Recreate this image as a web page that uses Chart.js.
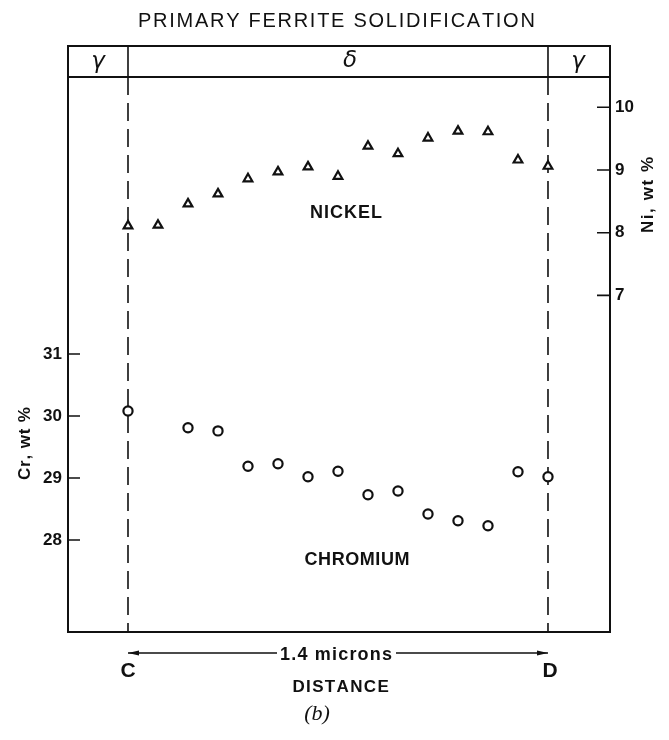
<!DOCTYPE html>
<html>
<head>
<meta charset="utf-8">
<script src="https://cdn.jsdelivr.net/npm/chart.js@4.4.1/dist/chart.umd.min.js"></script>
<style>
  html, body { margin: 0; padding: 0; background: #ffffff; }
  canvas { display: block; }
</style>
</head>
<body>
<canvas id="c" width="669" height="740"></canvas>
<script>
// ---- data ----
const TITLE = 'PRIMARY FERRITE SOLIDIFICATION';
const PHASES = ['\u03B3', '\u03B4', '\u03B3'];
const DIST = [0, 0.1, 0.2, 0.3, 0.4, 0.5, 0.6, 0.7, 0.8, 0.9, 1.0, 1.1, 1.2, 1.3, 1.4];   // microns from C
const NICKEL = [8.11, 8.12, 8.46, 8.62, 8.86, 8.97, 9.05, 8.90, 9.38, 9.26, 9.51, 9.62, 9.61, 9.16, 9.06];
const CHROMIUM = [30.08, null, 29.81, 29.76, 29.19, 29.23, 29.02, 29.11, 28.73, 28.79, 28.42, 28.31, 28.23, 29.10, 29.02];
const BOUNDARIES = [0, 1.4];           // C and D
const CR_TICKS = [28, 29, 30, 31];
const NI_TICKS = [7, 8, 9, 10];
const CR_TITLE = 'Cr, wt %';
const NI_TITLE = 'Ni, wt %';
const DIST_LABEL = '1.4 microns';
const X_TITLE = 'DISTANCE';
const END_LABELS = ['C', 'D'];
const SERIES_LABELS = ['NICKEL', 'CHROMIUM'];
const PANEL = '(b)';

const INK = '#111111';
const FONT = '"Liberation Sans", Arial, sans-serif';

function toPoints(ys) {
  const pts = [];
  DIST.forEach((d, i) => { if (ys[i] !== null) pts.push({ x: d, y: ys[i] }); });
  return pts;
}

function spaced(ctx, text, x, y, width, align) {
  ctx.save();
  const w0 = ctx.measureText(text).width;
  const sp = text.length > 1 ? (width - w0) / (text.length - 1) : 0;
  let cx = align === 'center' ? x - width / 2 : x;
  ctx.textAlign = 'left';
  for (const ch of text) {
    ctx.fillText(ch, cx, y);
    cx += ctx.measureText(ch).width + sp;
  }
  ctx.restore();
}

const decor = {
  id: 'decor',
  beforeDatasetsDraw(chart) {
    const { ctx, chartArea: a, scales } = chart;
    const headerBottom = a.top + 31;
    ctx.save();
    ctx.strokeStyle = INK;
    ctx.lineWidth = 1.6;
    ctx.setLineDash([18, 8]);
    BOUNDARIES.forEach(b => {
      const x = scales.x.getPixelForValue(b);
      ctx.beginPath();
      ctx.moveTo(x, headerBottom);
      ctx.lineTo(x, a.bottom);
      ctx.stroke();
    });
    ctx.restore();
  },
  afterDraw(chart) {
    const { ctx, chartArea: a, scales } = chart;
    const headerBottom = a.top + 31;
    ctx.save();
    ctx.strokeStyle = INK;
    ctx.fillStyle = INK;
    ctx.lineWidth = 2;
    ctx.beginPath();
    ctx.moveTo(a.left, a.top); ctx.lineTo(a.right, a.top);
    ctx.moveTo(a.left, a.bottom); ctx.lineTo(a.right, a.bottom);
    ctx.moveTo(a.left, headerBottom); ctx.lineTo(a.right, headerBottom);
    ctx.stroke();
    const bx = BOUNDARIES.map(b => scales.x.getPixelForValue(b));
    ctx.lineWidth = 1.6;
    ctx.beginPath();
    bx.forEach(x => { ctx.moveTo(x, a.top); ctx.lineTo(x, headerBottom); });
    ctx.stroke();
    // header labels
    ctx.font = 'italic 23px "DejaVu Sans", sans-serif';
    ctx.textAlign = 'center';
    ctx.textBaseline = 'middle';
    const hy = (a.top + headerBottom) / 2 + 1;
    ctx.fillText(PHASES[0], (a.left + bx[0]) / 2, hy);
    ctx.fillText(PHASES[1], (bx[0] + bx[1]) / 2 + 12, hy - 1);
    ctx.fillText(PHASES[2], (bx[1] + a.right) / 2 - 1, hy);

    // inward tick marks
    ctx.lineWidth = 1.6;
    ctx.beginPath();
    scales.yCr.ticks.forEach(t => {
      const y = scales.yCr.getPixelForValue(t.value);
      ctx.moveTo(a.left, y); ctx.lineTo(a.left + 12, y);
    });
    scales.yNi.ticks.forEach(t => {
      const y = scales.yNi.getPixelForValue(t.value);
      ctx.moveTo(a.right - 13, y); ctx.lineTo(a.right, y);
    });
    ctx.stroke();

    // title
    ctx.textBaseline = 'alphabetic';
    ctx.font = '20px ' + FONT;
    spaced(ctx, TITLE, 138, 27, 395, 'left');

    // axis titles (rotated)
    ctx.font = 'bold 17px ' + FONT;
    ctx.textBaseline = 'middle';
    ctx.save();
    ctx.translate(25, 444);
    ctx.rotate(-Math.PI / 2);
    spaced(ctx, CR_TITLE, 0, 0, 72, 'center');
    ctx.restore();
    ctx.save();
    ctx.translate(648, 195);
    ctx.rotate(-Math.PI / 2);
    spaced(ctx, NI_TITLE, 0, 0, 76, 'center');
    ctx.restore();

    // series labels
    ctx.font = 'bold 18px ' + FONT;
    ctx.textBaseline = 'middle';
    spaced(ctx, SERIES_LABELS[0], 346, 213, 72, 'center');
    spaced(ctx, SERIES_LABELS[1], 357, 560, 105, 'center');

    // distance arrow
    const ay = 653;
    ctx.lineWidth = 1.5;
    ctx.beginPath();
    ctx.moveTo(bx[0], ay); ctx.lineTo(277, ay);
    ctx.moveTo(396, ay); ctx.lineTo(bx[1], ay);
    ctx.stroke();
    ctx.beginPath();
    ctx.moveTo(bx[0], ay); ctx.lineTo(bx[0] + 11, ay - 2.5); ctx.lineTo(bx[0] + 11, ay + 2.5); ctx.closePath();
    ctx.moveTo(bx[1], ay); ctx.lineTo(bx[1] - 11, ay - 2.5); ctx.lineTo(bx[1] - 11, ay + 2.5); ctx.closePath();
    ctx.fill();
    ctx.font = 'bold 18px ' + FONT;
    spaced(ctx, DIST_LABEL, 336, 655, 112, 'center');
    ctx.font = 'bold 17px ' + FONT;
    spaced(ctx, X_TITLE, 340, 687, 95, 'center');
    ctx.font = 'bold 21px ' + FONT;
    ctx.textAlign = 'center';
    ctx.fillText(END_LABELS[0], bx[0], 671);
    ctx.fillText(END_LABELS[1], bx[1] + 2, 671);
    ctx.font = 'italic 22px "Liberation Serif", "Times New Roman", serif';
    ctx.fillText(PANEL, 317, 714);
    ctx.restore();
  }
};

const tickFont = { family: FONT, size: 17, weight: 'bold' };

new Chart(document.getElementById('c'), {
  type: 'scatter',
  data: {
    datasets: [
      {
        label: 'Nickel',
        data: toPoints(NICKEL),
        yAxisID: 'yNi',
        pointStyle: 'triangle',
        pointRadius: 5,
        borderColor: INK,
        backgroundColor: '#ffffff',
        borderWidth: 2.2,
        showLine: false
      },
      {
        label: 'Chromium',
        data: toPoints(CHROMIUM),
        yAxisID: 'yCr',
        pointStyle: 'circle',
        pointRadius: 4.6,
        borderColor: INK,
        backgroundColor: '#ffffff',
        borderWidth: 2.2,
        showLine: false
      }
    ]
  },
  options: {
    responsive: false,
    animation: false,
    devicePixelRatio: 1,
    layout: { padding: { top: 46, bottom: 108, left: 0, right: 0 } },
    plugins: { legend: { display: false }, tooltip: { enabled: false }, title: { display: false } },
    scales: {
      x: { type: 'linear', min: -0.2, max: 1.6067, display: false },
      yCr: {
        type: 'linear', position: 'left', min: 26.516, max: 35.968,
        afterBuildTicks: s => { s.ticks = CR_TICKS.map(v => ({ value: v })); },
        afterFit: s => { s.width = 68; },
        grid: { drawOnChartArea: false, drawTicks: false },
        border: { display: true, color: INK, width: 2 },
        ticks: { padding: 6, font: tickFont, color: INK }
      },
      yNi: {
        type: 'linear', position: 'right', min: 1.632, max: 10.978,
        afterBuildTicks: s => { s.ticks = NI_TICKS.map(v => ({ value: v })); },
        afterFit: s => { s.width = 59; },
        grid: { drawOnChartArea: false, drawTicks: false },
        border: { display: true, color: INK, width: 2 },
        ticks: { padding: 5, font: tickFont, color: INK }
      }
    }
  },
  plugins: [decor]
});
</script>
</body>
</html>
